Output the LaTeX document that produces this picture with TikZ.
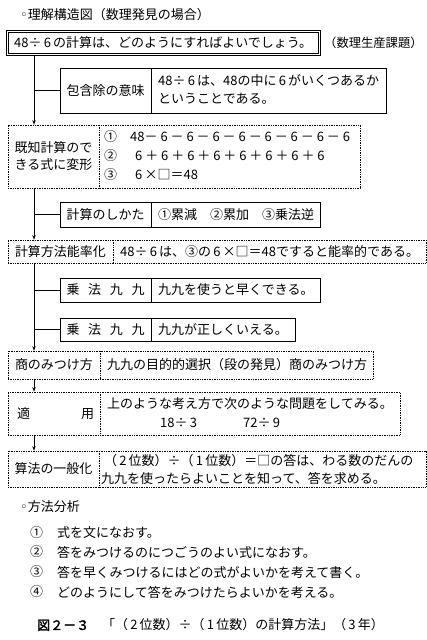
\documentclass[tikz,border=0pt]{standalone}
\usepackage{fontspec}
\setmainfont{Noto Sans CJK JP}[AutoFakeBold=2]
\newfontfamily\dejavu{DejaVu Sans}
\usetikzlibrary{arrows.meta}
\begin{document}
\begin{tikzpicture}[x=1pt,y=-1pt,
  font=\fontsize{13}{17}\selectfont,
  sbox/.style={draw, line width=0.8pt, inner sep=0pt},
  dbox/.style={draw, line width=0.7pt, densely dotted, inner sep=0pt},
  conn/.style={line width=0.8pt},
  divd/.style={line width=0.7pt, densely dotted},
  arr/.style={conn, -{Stealth[length=4.5pt,width=3.5pt]}},
  txt/.style={inner sep=0pt, anchor=west},
  lbl/.style={inner sep=0pt, anchor=center, align=center}]
\useasboundingbox (0,0) rectangle (427,640);
% title
\node[txt] (t0) at (20,15) {{\dejavu ◦}理解構造図（数理発見の場合）};
% top box
\node[draw, double, double distance=1.6pt, line width=0.7pt, minimum width=312pt, minimum height=23pt, inner sep=0pt] (top) at (163.5,43) {};
\node[txt] (toptxt) at (14,43) {48÷\,6\,の計算は、どのようにすればよいでしょう。};
\node[txt, font=\fontsize{12.3}{17}\selectfont] (kadai) at (324,43) {（数理生産課題）};
% box 2
\node[sbox, minimum width=326pt, minimum height=45pt] (b2) at (223,90.5) {};
\draw[conn] (151,68) -- (151,113);
\node[lbl] (b2l) at (105.5,90.5) {包含除の意味};
\node[txt] (b2r1) at (158,81) {48÷\,6\,は、48の中に\,6\,がいくつあるか};
\node[txt] (b2r2) at (158,99) {ということである。};
% box 3
\node[dbox, minimum width=352pt, minimum height=63pt] (b3) at (184,156.5) {};
\draw[divd] (99,125) -- (99,188);
\node[lbl] (b3l) at (53.5,156.5) {既知計算ので\\きる式に変形};
\node[txt] (c1) at (104,137) {①};
\node[txt] (e1) at (130,137) {48－ 6 － 6 － 6 － 6 － 6 － 6 － 6 － 6};
\node[txt] (c2) at (104,156) {②};
\node[txt] (e2) at (135,156) {6 ＋ 6 ＋ 6 ＋ 6 ＋ 6 ＋ 6 ＋ 6 ＋ 6};
\node[txt] (c3) at (104,175) {③};
\node[txt] (e3) at (135,175) {6\,×□＝48};
% box 4
\node[sbox, minimum width=260pt, minimum height=25pt] (b4) at (190,214.5) {};
\draw[conn] (151,202) -- (151,227);
\node[lbl] (b4l) at (105.5,214.5) {計算のしかた};
\node[txt] (b4r) at (158,214.5) {①累減\quad ②累加\quad ③乗法逆};
% box 5
\node[dbox, minimum width=418pt, minimum height=23pt] (b5) at (217,251.5) {};
\draw[divd] (113,240) -- (113,263);
\node[lbl] (b5l) at (60.5,251.5) {計算方法能率化};
\node[txt] (b5r) at (120,251.5) {48÷\,6\,は、③の\,6\,×□＝48ですると能率的である。};
% box 6
\node[sbox, minimum width=260pt, minimum height=24pt] (b6) at (190,290) {};
\draw[conn] (151,278) -- (151,302);
\node[lbl] (b6l) at (105.5,290) {\makebox[78pt][s]{乗\hfill 法\hfill 九\hfill 九}};
\node[txt] (b6r) at (158,290) {九九を使うと早くできる。};
% box 7
\node[sbox, minimum width=235pt, minimum height=23pt] (b7) at (177.5,329.5) {};
\draw[conn] (151,318) -- (151,341);
\node[lbl] (b7l) at (105.5,329.5) {\makebox[78pt][s]{乗\hfill 法\hfill 九\hfill 九}};
\node[txt] (b7r) at (158,329.5) {九九が正しくいえる。};
% box 8
\node[dbox, minimum width=365pt, minimum height=28pt] (b8) at (190.5,365) {};
\draw[divd] (100,351) -- (100,379);
\node[lbl] (b8l) at (54,365) {商のみつけ方};
\node[txt] (b8r) at (107,365) {九九の目的的選択（段の発見）商のみつけ方};
% box 9
\node[dbox, minimum width=392pt, minimum height=43pt] (b9) at (204,413.5) {};
\draw[divd] (100,392) -- (100,435);
\node[lbl] (b9l) at (55.5,413.5) {\makebox[77pt][s]{適\hfill 用}};
\node[txt] (b9r1) at (107,404) {上のような考え方で次のような問題をしてみる。};
\node[txt] (b9r2) at (160,423) {18÷\,3};
\node[txt] (b9r3) at (243,423) {72÷\,9};
% box 10
\node[dbox, minimum width=418pt, minimum height=36pt] (b10) at (217,469) {};
\draw[divd] (99,451) -- (99,487);
\node[lbl] (b10l) at (53.5,469) {算法の一般化};
\node[txt] (b10r1) at (104,461) {（\,2\,位数）÷（\,1\,位数）＝□の答は、わる数のだんの};
\node[txt] (b10r2) at (101,478) {九九を使ったらよいことを知って、答を求める。};
% connectors
\coordinate (sp) at (34,0);
\draw[arr] (top.south -| sp) -- (b3.north -| sp);
\draw[conn] (sp |- b2.west) -- (b2.west);
\draw[arr] (b3.south -| sp) -- (b5.north -| sp);
\draw[conn] (sp |- b4.west) -- (b4.west);
\draw[arr] (b5.south -| sp) -- (b8.north -| sp);
\draw[conn] (sp |- b6.west) -- (b6.west);
\draw[conn] (sp |- b7.west) -- (b7.west);
\draw[arr] (b8.south -| sp) -- (b9.north -| sp);
\draw[arr] (b9.south -| sp) -- (b10.north -| sp);
% method analysis
\node[txt] (h2) at (20,507) {{\dejavu ◦}方法分析};
\node[txt] (m1n) at (30,533) {①};
\node[txt] (m1) at (57,533) {式を文になおす。};
\node[txt] (m2n) at (30,552) {②};
\node[txt] (m2) at (57,552) {答をみつけるのにつごうのよい式になおす。};
\node[txt] (m3n) at (30,572) {③};
\node[txt] (m3) at (57,572) {答を早くみつけるにはどの式がよいかを考えて書く。};
\node[txt] (m4n) at (30,592) {④};
\node[txt] (m4) at (57,592) {どのようにして答をみつけたらよいかを考える。};
% caption
\node[txt] (cap) at (37,625) {\textbf{図２－３}\quad 「（\,2\,位数）÷（\,1\,位数）の計算方法」（\,3\,年）};
\end{tikzpicture}
\end{document}
